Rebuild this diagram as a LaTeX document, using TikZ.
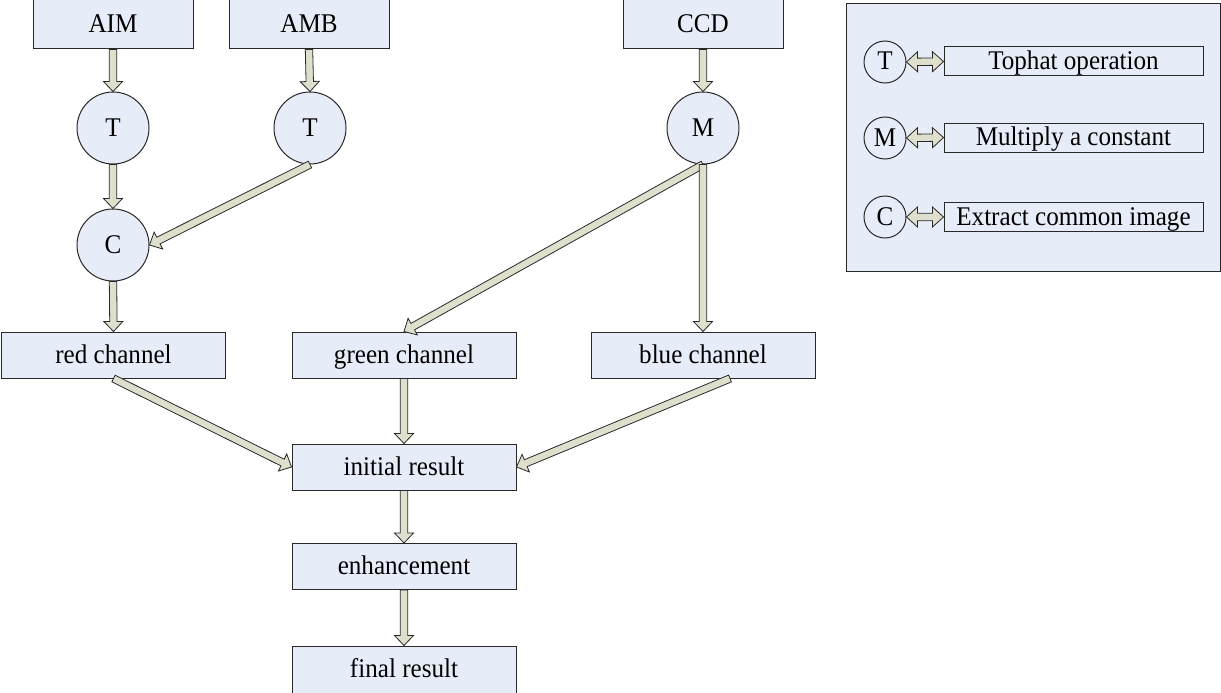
\documentclass[tikz,border=0pt]{standalone}
\usepackage{fontspec}
\setmainfont{Liberation Serif}[FakeStretch=0.93]
\usetikzlibrary{calc}
\definecolor{boxfill}{RGB}{231,237,248}
\definecolor{arrfill}{RGB}{222,223,204}
\definecolor{linecol}{RGB}{40,40,40}
\tikzset{
  txt/.style={font=\fontsize{27}{32}\selectfont, text height=22pt, text depth=6pt},
  box/.style={txt, draw=linecol, fill=boxfill, line width=1pt, rectangle, inner sep=0pt, minimum width=224pt, minimum height=46pt},
  topbox/.style={box, minimum width=160pt, minimum height=49pt},
  op/.style={txt, draw=linecol, fill=boxfill, line width=1pt, circle, inner sep=0pt, minimum size=72pt},
  legop/.style={txt, draw=linecol, line width=1pt, circle, inner sep=0pt, minimum size=42pt},
  legbox/.style={txt, draw=linecol, line width=1pt, rectangle, inner sep=0pt, minimum width=259pt, minimum height=29pt},
  panel/.style={draw=linecol, fill=boxfill, line width=1pt, rectangle, inner sep=0pt},
  barrow/.style={draw=linecol, fill=arrfill, line width=0.8pt, line join=miter,
    to path={
      ($(\tikztostart)!3.7pt!90:(\tikztotarget)$) --
      ($(\tikztotarget)!10pt!(\tikztostart)!3.7pt!-90:(\tikztostart)$) --
      ($(\tikztotarget)!10pt!(\tikztostart)!9.5pt!-90:(\tikztostart)$) --
      (\tikztotarget) --
      ($(\tikztotarget)!10pt!(\tikztostart)!9.5pt!90:(\tikztostart)$) --
      ($(\tikztotarget)!10pt!(\tikztostart)!3.7pt!90:(\tikztostart)$) --
      ($(\tikztostart)!3.7pt!-90:(\tikztotarget)$) -- cycle}},
  dblarrow/.style={draw=linecol, fill=arrfill, line width=0.8pt, line join=miter,
    to path={
      (\tikztostart) --
      ($(\tikztostart)!11pt!(\tikztotarget)!10pt!90:(\tikztotarget)$) --
      ($(\tikztostart)!11pt!(\tikztotarget)!3.7pt!90:(\tikztotarget)$) --
      ($(\tikztotarget)!11pt!(\tikztostart)!3.7pt!-90:(\tikztostart)$) --
      ($(\tikztotarget)!11pt!(\tikztostart)!10pt!-90:(\tikztostart)$) --
      (\tikztotarget) --
      ($(\tikztotarget)!11pt!(\tikztostart)!10pt!90:(\tikztostart)$) --
      ($(\tikztotarget)!11pt!(\tikztostart)!3.7pt!90:(\tikztostart)$) --
      ($(\tikztostart)!11pt!(\tikztotarget)!3.7pt!-90:(\tikztotarget)$) --
      ($(\tikztostart)!11pt!(\tikztotarget)!10pt!-90:(\tikztotarget)$) -- cycle}},
}
\begin{document}
\begin{tikzpicture}[x=1pt, y=-1pt]
\useasboundingbox (0,0) rectangle (1221,693);
\clip (0,0) rectangle (1221,693);

% main flow
\node[topbox] (aim) at (113,24.5) {AIM};
\node[topbox] (amb) at (309,24.5) {AMB};
\node[topbox] (ccd) at (703,24.5) {CCD};

\node[op] (t1) at (113,128) {T};
\node[op] (t2) at (310,128) {T};
\node[op] (m)  at (703,128) {M};
\node[op] (c)  at (113,245) {C};

\node[box] (red)   at (113.5,355) {red channel};
\node[box] (green) at (404,355) {green channel};
\node[box] (blue)  at (703,355) {blue channel};

\node[box] (init) at (404,467) {initial result};
\node[box] (enh)  at (404,566.5) {enhancement};
\node[box, minimum height=50pt] (fin) at (404,671) {};
\node[txt] (fintxt) at (404,669.5) {final result};

\draw[barrow] (aim.south) to (t1.north);
\draw[barrow] (amb.south) to (t2.north);
\draw[barrow] (ccd.south) to (m.north);
\draw[barrow] (t1.south) to (c.north);
\draw[barrow] (t2.south) to (c.east);
\draw[barrow] (c.south) to (red.north);
\draw[barrow] (m.south) to (green.north);
\draw[barrow] (m.south) to (blue.north);
\draw[barrow] (red.south) to (init.west);
\draw[barrow] (green.south) to (init.north);
\draw[barrow] ($(blue.south)+(27,0)$) to (init.east);
\draw[barrow] (init.south) to (enh.north);
\draw[barrow] (enh.south) to (fin.north);

% legend
\node[panel, minimum width=374pt, minimum height=267pt] (legend) at (1033,137.5) {};
\node[legop] (lt) at (885,62) {T};
\node[legop] (lm) at (885,138) {M};
\node[legop] (lc) at (885,217) {C};
\node[legbox] (ltb) at (1073.5,61.5) {Tophat operation};
\node[legbox] (lmb) at (1073.5,137.5) {Multiply a constant};
\node[legbox] (lcb) at (1073.5,217) {Extract common image};
\draw[dblarrow] (lt.east) to (ltb.west);
\draw[dblarrow] (lm.east) to (lmb.west);
\draw[dblarrow] (lc.east) to (lcb.west);
\end{tikzpicture}
\end{document}
